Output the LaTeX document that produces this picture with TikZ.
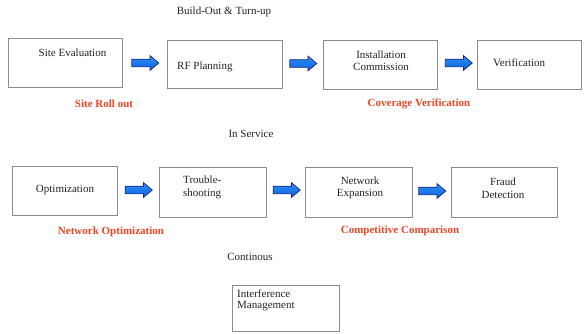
\documentclass[tikz,border=0pt]{standalone}
\usepackage{fontspec}
\setmainfont{Liberation Serif}
\usetikzlibrary{shapes.arrows}
\definecolor{boxline}{RGB}{140,140,140}
\definecolor{txt}{RGB}{35,35,35}
\definecolor{lbl}{RGB}{235,70,35}
\definecolor{arrfill}{RGB}{15,95,215}
\definecolor{arrtop}{RGB}{45,145,250}
\definecolor{arrline}{RGB}{20,40,120}
\tikzset{
  stagebox/.style={draw=boxline, line width=0.8pt, fill=white},
  plain/.style={font=\fontsize{11}{12.5}\selectfont, text=txt, inner sep=0pt, align=center},
  plainleft/.style={font=\fontsize{11}{12.5}\selectfont, text=txt, inner sep=0pt, align=left, anchor=west},
  redlbl/.style={font=\fontsize{11}{13}\selectfont\bfseries, text=lbl, inner sep=0pt},
  blockarrow/.style={single arrow, draw=arrline, line width=0.7pt, top color=arrtop, bottom color=arrfill,
    minimum height=27pt, inner xsep=0pt, inner ysep=3.5pt, single arrow head extend=3.5pt, single arrow tip angle=80}
}
\begin{document}
\begin{tikzpicture}[x=1pt,y=-1pt]
\useasboundingbox (0,0) rectangle (588,333);
% row 1 boxes
\draw[stagebox] (8,38) rectangle (122,87);
\draw[stagebox] (167,40) rectangle (282,88);
\draw[stagebox] (323,40) rectangle (437,89);
\draw[stagebox] (477,40) rectangle (581,89);
% row 2 boxes
\draw[stagebox] (12,166) rectangle (117,215);
\draw[stagebox] (159,167) rectangle (266,217);
\draw[stagebox] (305,167) rectangle (412,217);
\draw[stagebox] (451,167) rectangle (557,217);
% bottom box
\draw[stagebox] (232,285) rectangle (339,331);

% arrows
\node[blockarrow] (a1) at (143,63) {};
\node[blockarrow] (a2) at (301,63.5) {};
\node[blockarrow] (a3) at (456.5,63) {};
\node[blockarrow] (b1) at (136.5,190) {};
\node[blockarrow] (b2) at (284.5,190) {};
\node[blockarrow] (b3) at (430,191) {};

% headings
\node[plain] (h1) at (224,12) {Build-Out \& Turn-up};
\node[plain] (h2) at (251,134) {In Service};
\node[plain] (h3) at (250,257) {Continous};

% row 1 texts
\node[plain] (t1) at (72.5,53) {Site Evaluation};
\node[plainleft] (t2) at (177,67) {RF Planning};
\node[plain] (t3) at (381,60.5) {Installation\\Commission};
\node[plainleft] (t4) at (493,63) {Verification};

% row 2 texts
\node[plain] (u1) at (65,190) {Optimization};
\node[plainleft] (u2) at (183,187.5) {Trouble-\\shooting};
\node[plain] (u3) at (360,188) {Network\\Expansion};
\node[plain] (u4) at (503,188) {Fraud\\Detection};

% bottom box text
\node[plainleft, font=\fontsize{11}{11}\selectfont] (v1) at (237,300) {Interference\\Management};

% red labels
\node[redlbl] (r1) at (104,104) {Site Roll out};
\node[redlbl] (r2) at (419,104) {Coverage Verification};
\node[redlbl] (r3) at (111,232) {Network Optimization};
\node[redlbl] (r4) at (400,231) {Competitive Comparison};
\end{tikzpicture}
\end{document}
